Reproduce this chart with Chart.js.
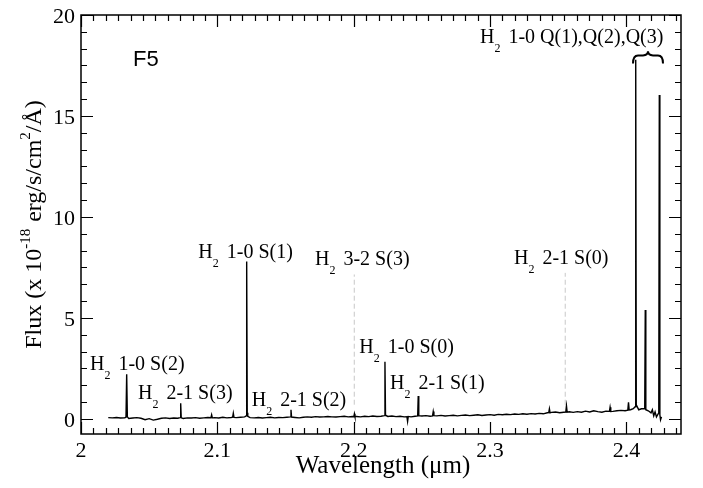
<!DOCTYPE html>
<html>
<head>
<meta charset="utf-8">
<script src="https://cdn.jsdelivr.net/npm/chart.js@4.4.1/dist/chart.umd.min.js"></script>
<style>
  body { margin: 0; background: #fff; }
  canvas { display: block; }
  #probe { position: absolute; left: -999px; font-family: "Liberation Serif"; }
</style>
</head>
<body>
<canvas id="chart" width="703" height="488"></canvas>
<span id="probe">Wavelength</span>
<script>
// spectrum (wavelength in micron, flux in 1e-18 erg/s/cm2/A)
const wavelength = [
  2.020, 2.023, 2.026, 2.029, 2.032, 2.0330, 2.0335, 2.0340, 2.035, 2.038,
  2.041, 2.044, 2.047, 2.050, 2.053, 2.056, 2.059, 2.062, 2.065, 2.068,
  2.071, 2.0727, 2.0731, 2.0735, 2.075, 2.078, 2.081, 2.084, 2.087, 2.090,
  2.093, 2.0953, 2.0958, 2.0963, 2.098, 2.101, 2.104, 2.107, 2.110, 2.1112,
  2.1117, 2.1122, 2.114, 2.117, 2.120, 2.1211, 2.1215, 2.1219, 2.1223, 2.124,
  2.127, 2.130, 2.133, 2.136, 2.139, 2.142, 2.145, 2.148, 2.151, 2.1536,
  2.1540, 2.1544, 2.157, 2.160, 2.163, 2.166, 2.169, 2.172, 2.175, 2.178,
  2.181, 2.184, 2.187, 2.190, 2.193, 2.196, 2.199, 2.2001, 2.2005, 2.2009,
  2.202, 2.205, 2.208, 2.211, 2.214, 2.217, 2.220, 2.2225, 2.2229, 2.2233,
  2.225, 2.228, 2.231, 2.234, 2.237, 2.2390, 2.2395, 2.2400, 2.242, 2.245,
  2.2469, 2.2473, 2.2477, 2.250, 2.253, 2.256, 2.2578, 2.2583, 2.2588, 2.261,
  2.264, 2.267, 2.270, 2.273, 2.276, 2.279, 2.282, 2.285, 2.288, 2.291,
  2.294, 2.297, 2.300, 2.303, 2.306, 2.309, 2.312, 2.315, 2.318, 2.321,
  2.324, 2.327, 2.330, 2.333, 2.336, 2.339, 2.342, 2.3430, 2.3435, 2.3440,
  2.345, 2.348, 2.351, 2.354, 2.3555, 2.3560, 2.3565, 2.358, 2.361, 2.364,
  2.367, 2.370, 2.373, 2.376, 2.379, 2.382, 2.385, 2.3875, 2.3880, 2.3885,
  2.390, 2.393, 2.396, 2.399, 2.4010, 2.4015, 2.4020, 2.403, 2.405, 2.4064,
  2.4068, 2.4072, 2.409, 2.411, 2.4134, 2.4138, 2.4142, 2.416, 2.418, 2.419,
  2.420, 2.421, 2.422, 2.4237, 2.4241, 2.4245, 2.425, 2.4257
];
const flux = [
  0.06, 0.05, 0.07, 0.04, 0.05, 0.08, 2.21, 0.10, 0.02, 0.04,
  0.06, 0.03, -0.04, 0.01, -0.06, -0.02, 0.03, 0.05, 0.02, 0.04,
  0.03, 0.06, 0.77, 0.05, 0.02, 0.05, 0.04, 0.06, 0.03, 0.05,
  0.07, 0.06, 0.20, 0.05, 0.06, 0.04, 0.08, 0.05, 0.07, 0.08,
  0.28, 0.07, 0.06, 0.08, 0.10, 0.15, 7.79, 0.30, 0.12, 0.06,
  0.05, 0.07, 0.04, 0.06, 0.08, 0.05, 0.07, 0.06, 0.08, 0.10,
  0.45, 0.09, 0.07, 0.05, 0.08, 0.10, 0.08, 0.11, 0.09, 0.10,
  0.12, 0.10, 0.09, 0.11, 0.13, 0.10, 0.12, 0.11, 0.25, 0.12,
  0.12, 0.10, 0.13, 0.11, 0.14, 0.12, 0.13, 0.16, 2.83, 0.18,
  0.12, 0.14, 0.11, 0.13, 0.10, 0.11, -0.13, 0.12, 0.10, 0.13,
  0.15, 1.13, 0.16, 0.14, 0.16, 0.13, 0.15, 0.36, 0.16, 0.15,
  0.17, 0.14, 0.16, 0.18, 0.15, 0.17, 0.19, 0.16, 0.18, 0.20,
  0.17, 0.19, 0.21, 0.18, 0.22, 0.20, 0.23, 0.21, 0.24, 0.22,
  0.25, 0.23, 0.26, 0.24, 0.27, 0.25, 0.30, 0.31, 0.50, 0.30,
  0.32, 0.34, 0.30, 0.33, 0.34, 0.64, 0.33, 0.35, 0.32, 0.36,
  0.33, 0.38, 0.34, 0.40, 0.36, 0.33, 0.38, 0.37, 0.58, 0.36,
  0.37, 0.40, 0.42, 0.40, 0.43, 0.82, 0.44, 0.45, 0.50, 0.60,
  17.78, 0.70, 0.45, 0.50, 0.50, 5.39, 0.45, 0.40, 0.30, 0.45,
  0.15, 0.35, 0.10, 0.30, 16.04, 0.20, -0.05, 0.10
];

// axis ticks
const xMajor = [2, 2.1, 2.2, 2.3, 2.4];
const xLabels = ['2', '2.1', '2.2', '2.3', '2.4'];
const yMajor = [0, 5, 10, 15, 20];
const yLabels = ['0', '5', '10', '15', '20'];

// unidentified lines marked with dashed guides
const markerWl = [2.2004, 2.3551];
const markerFrom = [0.7, 0.7];
const markerTo = [7.15, 7.23];

// line identifications: text after "H2", anchor (left, baseline) in data units
const lineNames = ['1-0 S(2)', '2-1 S(3)', '1-0 S(1)', '2-1 S(2)', '3-2 S(3)', '1-0 S(0)', '2-1 S(1)', '2-1 S(0)', '1-0 Q(1),Q(2),Q(3)'];
const lineLabelWl = [2.0066, 2.0418, 2.0860, 2.1252, 2.1716, 2.2041, 2.2266, 2.3175, 2.2926];
const lineLabelFlux = [2.42, 0.99, 7.95, 0.63, 7.62, 3.25, 1.48, 7.67, 18.63];

const serif = '"Liberation Serif", "DejaVu Serif", serif';

function drawPieces(ctx, pieces, x, y, align) {
    // pieces: [text, fontSize, dy, extraGap]
    let total = 0;
    pieces.forEach(p => {
        ctx.font = p[1] + 'px ' + serif;
        total += ctx.measureText(p[0]).width + (p[3] || 0);
    });
    let cx = align === 'center' ? x - total / 2 : x;
    pieces.forEach(p => {
        ctx.font = p[1] + 'px ' + serif;
        ctx.fillText(p[0], cx, y + p[2]);
        cx += ctx.measureText(p[0]).width + (p[3] || 0);
    });
}

const decorations = {
    id: 'decorations',
    afterDraw(chart) {
        const ctx = chart.ctx;
        const a = chart.chartArea;
        const xs = chart.scales.x;
        const ys = chart.scales.y;
        ctx.save();
        ctx.strokeStyle = '#000';
        ctx.fillStyle = '#000';
        ctx.lineWidth = 1.5;
        ctx.strokeRect(a.left, a.top, a.right - a.left, a.bottom - a.top);

        // inward ticks on all four sides
        ctx.lineWidth = 1.2;
        ctx.beginPath();
        for (let i = 0; i < xMajor.length; i++) {
            for (let k = 0; k <= 10; k++) {
                const v = xMajor[i] + k * 0.1 / 11;
                if (v > xs.max + 1e-9) break;
                const px = Math.round(xs.getPixelForValue(v)) + 0.5;
                const len = k === 0 ? 12 : 6;
                ctx.moveTo(px, a.bottom); ctx.lineTo(px, a.bottom - len);
                ctx.moveTo(px, a.top); ctx.lineTo(px, a.top + len);
            }
        }
        for (let i = 0; i < yMajor.length; i++) {
            for (let k = 0; k <= 5; k++) {
                const v = yMajor[i] + k * 5 / 6;
                if (v > ys.max + 1e-9) break;
                const py = Math.round(ys.getPixelForValue(v)) + 0.5;
                const len = k === 0 ? 12 : 6;
                ctx.moveTo(a.left, py); ctx.lineTo(a.left + len, py);
                ctx.moveTo(a.right, py); ctx.lineTo(a.right - len, py);
            }
        }
        ctx.stroke();

        // tick labels
        ctx.font = '22px ' + serif;
        ctx.textAlign = 'center';
        ctx.textBaseline = 'alphabetic';
        xMajor.forEach((v, i) => ctx.fillText(xLabels[i], xs.getPixelForValue(v), 457));
        ctx.textAlign = 'right';
        yMajor.forEach((v, i) => ctx.fillText(yLabels[i], a.left - 6, ys.getPixelForValue(v) + 8));

        // axis titles
        ctx.textAlign = 'left';
        drawPieces(ctx, [['Wavelength (\u03bcm)', 25, 0]], (a.left + a.right) / 2 + 2, 473, 'center');
        ctx.save();
        ctx.translate(41, (a.top + a.bottom) / 2);
        ctx.rotate(-Math.PI / 2);
        drawPieces(ctx, [
            ['Flux (x 10', 24, 0],
            ['-18', 15, -11, 1],
            [' erg/s/cm', 24, 0],
            ['2', 15, -11],
            ['/\u00c5)', 24, 0]
        ], 0, 0, 'center');
        ctx.restore();

        // line identifications
        lineNames.forEach((name, i) => {
            drawPieces(ctx, [['H', 20, 0], ['2', 12, 9, 3], [' ' + name, 20, 0]],
                xs.getPixelForValue(lineLabelWl[i]), ys.getPixelForValue(lineLabelFlux[i]), 'left');
        });

        // brace over the Q lines
        const bl = xs.getPixelForValue(2.4048), br = xs.getPixelForValue(2.4268);
        const bm = (bl + br) / 2;
        const yTip = ys.getPixelForValue(18.2), yMid = ys.getPixelForValue(18.0), yEnd = ys.getPixelForValue(17.6);
        ctx.lineWidth = 2;
        ctx.beginPath();
        ctx.moveTo(bl, yEnd);
        ctx.quadraticCurveTo(bl, yMid, bl + 5, yMid);
        ctx.lineTo(bm - 5, yMid);
        ctx.quadraticCurveTo(bm, yMid, bm, yTip);
        ctx.quadraticCurveTo(bm, yMid, bm + 5, yMid);
        ctx.lineTo(br - 5, yMid);
        ctx.quadraticCurveTo(br, yMid, br, yEnd);
        ctx.stroke();

        // panel name
        ctx.font = '22px "Liberation Sans", Arial, sans-serif';
        ctx.fillText('F5', 133, 66);
        ctx.restore();
    }
};

const datasets = [{
    data: wavelength.map((x, i) => ({ x: x, y: flux[i] })),
    borderColor: '#000',
    borderWidth: 1.4,
    pointRadius: 0,
    tension: 0
}];
markerWl.forEach((w, i) => {
    datasets.push({
        data: [{ x: w, y: markerFrom[i] }, { x: w, y: markerTo[i] }],
        borderColor: '#c8c8c8',
        borderWidth: 1,
        borderDash: [5, 3],
        pointRadius: 0
    });
});

function build() {
    new Chart(document.getElementById('chart'), {
        type: 'line',
        data: { datasets: datasets },
        options: {
            responsive: false,
            animation: false,
            layout: { padding: { left: 81, right: 22, top: 15, bottom: 54 } },
            plugins: { legend: { display: false }, tooltip: { enabled: false } },
            scales: {
                x: { type: 'linear', min: 2, max: 2.44, display: false },
                y: { type: 'linear', min: -0.75, max: 20, display: false }
            }
        },
        plugins: [decorations]
    });
}

document.fonts.load('20px "Liberation Serif"').then(build, build);
</script>
</body>
</html>
